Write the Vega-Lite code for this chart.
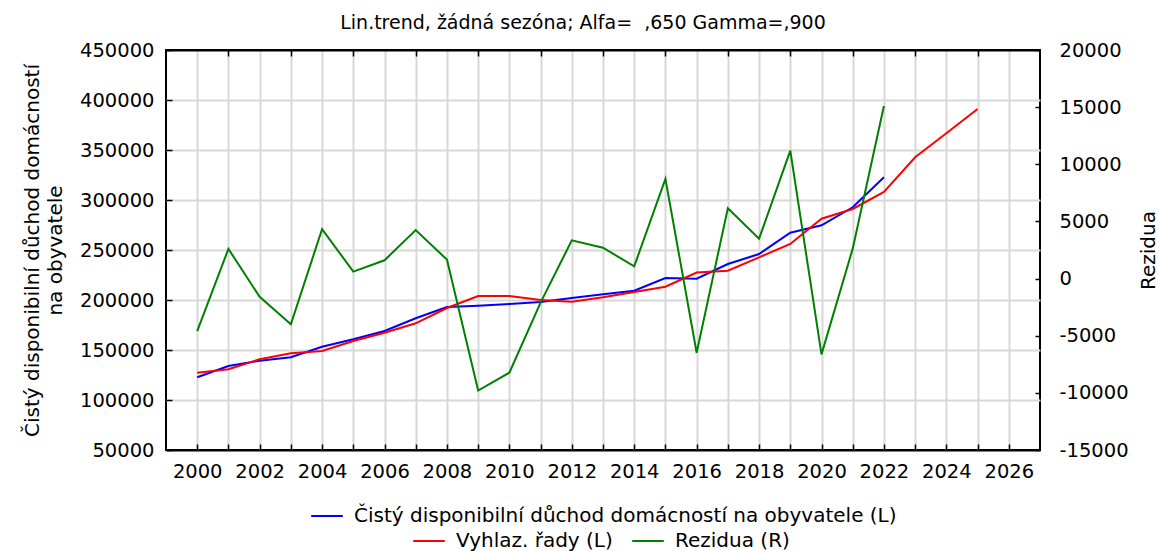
{
  "$schema": "https://vega.github.io/schema/vega-lite/v6.json",
  "width": 874,
  "height": 400,
  "autosize": {"type": "none"},
  "padding": {"left": 166, "top": 50, "right": 119, "bottom": 101},
  "background": "white",
  "title": {"text": "Lin.trend, žádná sezóna; Alfa=\u00a0\u00a0,650 Gamma=,900", "fontSize": 19, "fontWeight": "normal", "font": "DejaVu Sans", "color": "black", "anchor": "middle", "dx": -20, "offset": 7},
  "data": {"values": [
    {"year": 2000, "series": "actual", "value": 122700},
    {"year": 2001, "series": "actual", "value": 134000},
    {"year": 2002, "series": "actual", "value": 139300},
    {"year": 2003, "series": "actual", "value": 142700},
    {"year": 2004, "series": "actual", "value": 153300},
    {"year": 2005, "series": "actual", "value": 160700},
    {"year": 2006, "series": "actual", "value": 169000},
    {"year": 2007, "series": "actual", "value": 181700},
    {"year": 2008, "series": "actual", "value": 193000},
    {"year": 2009, "series": "actual", "value": 194300},
    {"year": 2010, "series": "actual", "value": 196000},
    {"year": 2011, "series": "actual", "value": 198000},
    {"year": 2012, "series": "actual", "value": 202000},
    {"year": 2013, "series": "actual", "value": 205700},
    {"year": 2014, "series": "actual", "value": 209300},
    {"year": 2015, "series": "actual", "value": 222000},
    {"year": 2016, "series": "actual", "value": 221300},
    {"year": 2017, "series": "actual", "value": 236000},
    {"year": 2018, "series": "actual", "value": 246000},
    {"year": 2019, "series": "actual", "value": 267300},
    {"year": 2020, "series": "actual", "value": 274700},
    {"year": 2021, "series": "actual", "value": 292700},
    {"year": 2022, "series": "actual", "value": 322700},
    {"year": 2000, "series": "smoothed", "value": 127300},
    {"year": 2001, "series": "smoothed", "value": 130700},
    {"year": 2002, "series": "smoothed", "value": 140700},
    {"year": 2003, "series": "smoothed", "value": 146700},
    {"year": 2004, "series": "smoothed", "value": 149000},
    {"year": 2005, "series": "smoothed", "value": 159000},
    {"year": 2006, "series": "smoothed", "value": 167300},
    {"year": 2007, "series": "smoothed", "value": 176700},
    {"year": 2008, "series": "smoothed", "value": 192000},
    {"year": 2009, "series": "smoothed", "value": 204000},
    {"year": 2010, "series": "smoothed", "value": 204000},
    {"year": 2011, "series": "smoothed", "value": 200000},
    {"year": 2012, "series": "smoothed", "value": 198300},
    {"year": 2013, "series": "smoothed", "value": 202700},
    {"year": 2014, "series": "smoothed", "value": 208000},
    {"year": 2015, "series": "smoothed", "value": 213300},
    {"year": 2016, "series": "smoothed", "value": 227500},
    {"year": 2017, "series": "smoothed", "value": 229300},
    {"year": 2018, "series": "smoothed", "value": 242700},
    {"year": 2019, "series": "smoothed", "value": 256000},
    {"year": 2020, "series": "smoothed", "value": 281300},
    {"year": 2021, "series": "smoothed", "value": 291000},
    {"year": 2022, "series": "smoothed", "value": 308000},
    {"year": 2023, "series": "smoothed", "value": 342700},
    {"year": 2024, "series": "smoothed", "value": 366700},
    {"year": 2025, "series": "smoothed", "value": 391000},
    {"year": 2000, "series": "resid", "value": -4600},
    {"year": 2001, "series": "resid", "value": 2600},
    {"year": 2002, "series": "resid", "value": -1600},
    {"year": 2003, "series": "resid", "value": -4000},
    {"year": 2004, "series": "resid", "value": 4330},
    {"year": 2005, "series": "resid", "value": 610},
    {"year": 2006, "series": "resid", "value": 1600},
    {"year": 2007, "series": "resid", "value": 4240},
    {"year": 2008, "series": "resid", "value": 1660},
    {"year": 2009, "series": "resid", "value": -9800},
    {"year": 2010, "series": "resid", "value": -8240},
    {"year": 2011, "series": "resid", "value": -2100},
    {"year": 2012, "series": "resid", "value": 3340},
    {"year": 2013, "series": "resid", "value": 2700},
    {"year": 2014, "series": "resid", "value": 1070},
    {"year": 2015, "series": "resid", "value": 8730},
    {"year": 2016, "series": "resid", "value": -6490},
    {"year": 2017, "series": "resid", "value": 6160},
    {"year": 2018, "series": "resid", "value": 3490},
    {"year": 2019, "series": "resid", "value": 11200},
    {"year": 2020, "series": "resid", "value": -6630},
    {"year": 2021, "series": "resid", "value": 2620},
    {"year": 2022, "series": "resid", "value": 15100}
  ]},
  "config": {
    "font": "DejaVu Sans",
    "view": {"stroke": "black", "strokeWidth": 2},
    "axis": {
      "labelFont": "DejaVu Sans", "labelFontSize": 19.5, "labelColor": "black",
      "titleFont": "DejaVu Sans", "titleFontSize": 20, "titleFontWeight": "normal", "titleColor": "black",
      "tickColor": "black", "tickWidth": 1.5,
      "gridColor": "#d8d8d8", "gridWidth": 2, "gridOpacity": 1,
      "domain": false, "labelOverlap": false, "labelFlush": false, "labelBound": false
    },
    "legend": {
      "orient": "none", "direction": "horizontal", "symbolType": "stroke", "symbolSize": 1000,
      "symbolStrokeWidth": 2, "labelFont": "DejaVu Sans", "labelFontSize": 20, "labelColor": "black",
      "labelOffset": 10, "columnPadding": 15, "labelLimit": 0, "padding": 0
    }
  },
  "layer": [
    {
      "encoding": {
        "x": {"field": "year", "type": "quantitative",
          "scale": {"domain": [1999, 2027], "nice": false, "zero": false},
          "axis": {"orient": "bottom", "values": [2000, 2001, 2002, 2003, 2004, 2005, 2006, 2007, 2008, 2009, 2010, 2011, 2012, 2013, 2014, 2015, 2016, 2017, 2018, 2019, 2020, 2021, 2022, 2023, 2024, 2025, 2026],
            "labelExpr": "datum.value % 2 === 0 ? '' + datum.value : ''",
            "tickSize": -6, "labelPadding": 18, "grid": true, "title": null}},
        "y": {"field": "value", "type": "quantitative",
          "scale": {"domain": [50000, 450000], "nice": false, "zero": false},
          "axis": {"orient": "left", "values": [50000, 100000, 150000, 200000, 250000, 300000, 350000, 400000, 450000],
            "labelExpr": "'' + datum.value", "tickSize": -6, "labelPadding": 18, "grid": true,
            "gridColor": {"condition": {"test": "datum.value === 50000 || datum.value === 450000", "value": "black"}, "value": "#d8d8d8"},
            "title": ["Čistý disponibilní důchod domácností", "na obyvatele"], "titlePadding": 14, "titleLineHeight": 23}}
      },
      "layer": [
        {
          "transform": [{"filter": "datum.series === 'actual'"}],
          "mark": {"type": "line", "strokeWidth": 2},
          "encoding": {
            "color": {"datum": "Čistý disponibilní důchod domácností na obyvatele (L)",
              "scale": {"range": ["#0000ff"]},
              "legend": {"title": null, "legendX": 144, "legendY": 449}}
          }
        },
        {
          "transform": [{"filter": "datum.series === 'smoothed'"}],
          "mark": {"type": "line", "strokeWidth": 2},
          "encoding": {
            "stroke": {"datum": "Vyhlaz. řady (L)",
              "scale": {"domain": ["Vyhlaz. řady (L)", "Rezidua (R)"], "range": ["#ff0000", "#008000"]},
              "legend": {"title": null, "legendX": 246, "legendY": 474}}
          }
        }
      ]
    },
    {
      "transform": [{"filter": "datum.series === 'resid'"}],
      "mark": {"type": "line", "strokeWidth": 2},
      "encoding": {
        "x": {"field": "year", "type": "quantitative",
          "axis": {"orient": "top", "values": [2001, 2003, 2005, 2007, 2009, 2011, 2013, 2015, 2017, 2019, 2021, 2023, 2025],
            "labels": false, "tickSize": -6, "grid": false, "title": null}},
        "y": {"field": "value", "type": "quantitative",
          "scale": {"domain": [-15000, 20000], "nice": false, "zero": false},
          "axis": {"orient": "right", "values": [-15000, -10000, -5000, 0, 5000, 10000, 15000, 20000],
            "labelExpr": "'' + datum.value", "tickSize": -5, "labelPadding": 24, "grid": false,
            "title": "Rezidua", "titleAngle": 270, "titlePadding": 30}},
        "stroke": {"datum": "Rezidua (R)"}
      }
    }
  ],
  "resolve": {"scale": {"y": "independent"}, "axis": {"x": "independent"}}
}
